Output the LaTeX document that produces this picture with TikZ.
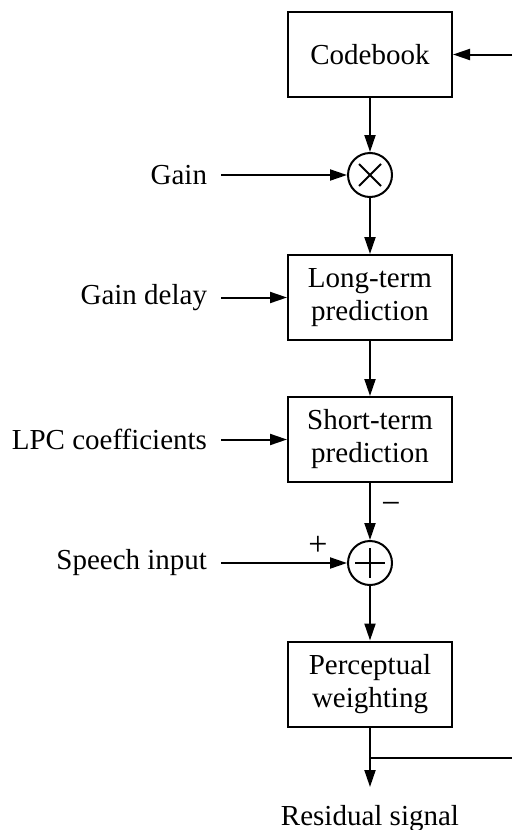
\documentclass[tikz,border=0pt]{standalone}
\usepackage{fontspec}
\setmainfont{Liberation Serif}
\usetikzlibrary{arrows.meta,calc}
\begin{document}
\begin{tikzpicture}[x=1pt,y=-1pt,
  font=\fontsize{29}{33}\selectfont,
  line width=2pt,
  arr/.style={-{Triangle[length=17pt,width=11pt]}},
  blk/.style={draw, rectangle, minimum width=164pt, minimum height=85pt, align=center, inner sep=0pt},
  junc/.style={draw, circle, minimum size=44pt, inner sep=0pt},
  lab/.style={anchor=east, inner sep=0pt, outer xsep=14pt},
  sgn/.style={inner sep=0pt, font=\fontsize{34}{36}\selectfont}]
\useasboundingbox (0,0) rectangle (512,830);
\node[blk] (cb) at (370,54.5) {Codebook};
\node[junc] (mul) at (370,175) {};
\node[blk] (lt) at (370,297.5) {Long-term\\prediction};
\node[blk] (st) at (370,439.5) {Short-term\\prediction};
\node[junc] (add) at (370,563) {};
\node[blk] (pw) at (370,684) {Perceptual\\weighting};
\node[lab] (gain) at (221,175) {Gain};
\node[lab] (gd) at (221,297.5) {Gain delay};
\node[lab] (lpc) at (221,439.5) {LPC coefficients};
\node[lab] (sp) at (221,563) {Speech input};
\node[anchor=north, inner xsep=0pt, inner ysep=17pt] (res) at (370,787) {Residual signal};
\node[sgn] (minus) at (391,508) {−};
\node[sgn] (plus) at (318,546) {+};
\coordinate (br) at (370,758);
\coordinate (fbR) at (512,758);
\coordinate (fbT) at (512,54.5);
% symbols inside junctions
\draw ($(mul.center)+(-11,-11)$) -- ($(mul.center)+(11,11)$);
\draw ($(mul.center)+(-11,11)$) -- ($(mul.center)+(11,-11)$);
\draw ($(add.center)+(-15,0)$) -- ($(add.center)+(15,0)$);
\draw ($(add.center)+(0,-15)$) -- ($(add.center)+(0,15)$);
% connectors
\draw[arr] (cb) -- (mul);
\draw[arr] (mul) -- (lt);
\draw[arr] (lt) -- (st);
\draw[arr] (st) -- (add);
\draw[arr] (add) -- (pw);
\draw[arr] (pw) -- (res.north);
\draw[arr] (gain.east) -- (mul.west);
\draw[arr] (gd.east) -- (lt.west);
\draw[arr] (lpc.east) -- (st.west);
\draw[arr] (sp.east) -- (add.west);
\draw (br) -- (fbR);
\draw[arr] (fbT) -- (cb.east);
\end{tikzpicture}
\end{document}
